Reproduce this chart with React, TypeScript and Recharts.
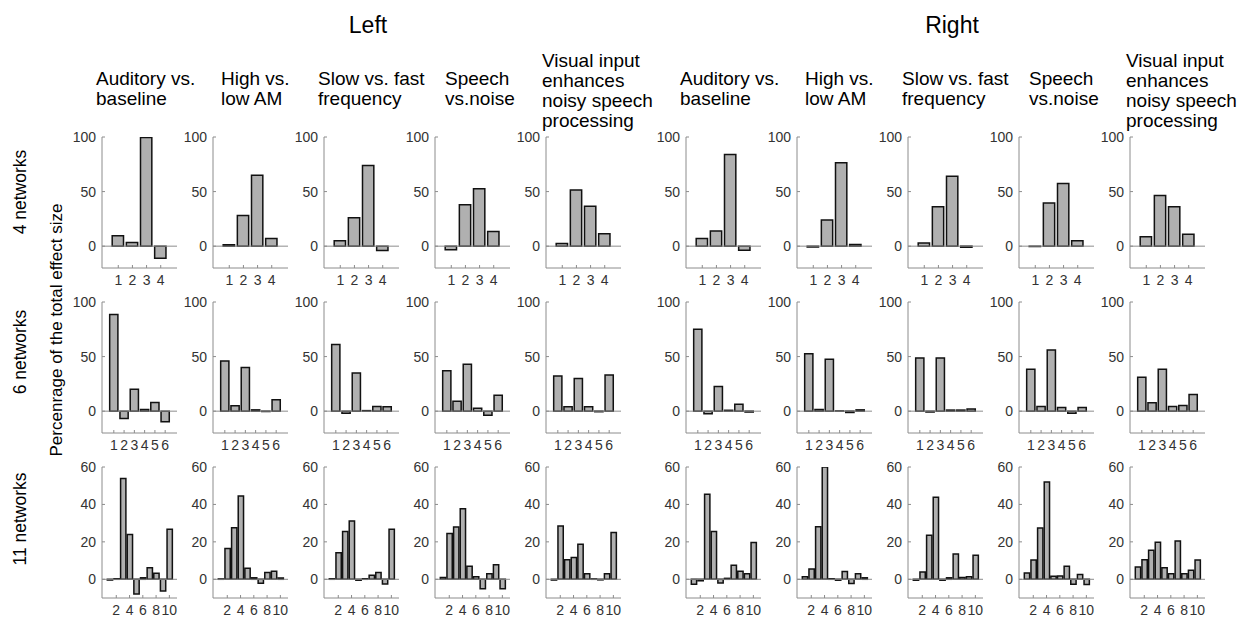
import React from 'react';
import { BarChart, Bar, XAxis, YAxis, ReferenceLine } from 'recharts';

// 4 networks (percent of total effect size, one value per network)
const left4Auditory = [9.5, 3.3, 99.5, -11];
const left4High = [1.2, 28, 65, 7];
const left4Slow = [5, 26, 74, -4];
const left4Speech = [-3.3, 38, 52.5, 13.5];
const left4Visual = [2.5, 51.5, 36.5, 11.3];
const right4Auditory = [7, 14, 84, -3.7];
const right4High = [-0.8, 24, 76.5, 1.5];
const right4Slow = [3, 36, 64, -1];
const right4Speech = [-0.4, 39.5, 57.5, 5];
const right4Visual = [8.6, 46.3, 36, 11];

// 6 networks
const left6Auditory = [88.5, -6.7, 20, 1.5, 8, -9.8];
const left6High = [46, 5, 40, 1.2, -0.3, 10.4];
const left6Slow = [61, -2, 35, 0.5, 4.3, 4];
const left6Speech = [37, 9, 43, 2.7, -3.7, 14.6];
const left6Visual = [32.3, 4, 30, 4, -0.5, 33.2];
const right6Auditory = [75, -2.4, 22.6, 0.8, 6.4, -0.8];
const right6High = [52.7, 1.5, 47.6, 0.2, -1.2, 1.2];
const right6Slow = [48.8, -0.8, 48.8, 1, 1, 2];
const right6Speech = [38.4, 4.3, 56, 3.4, -2, 3.3];
const right6Visual = [31, 7.6, 38.4, 4.3, 5.2, 15.2];

// 11 networks (ten bars drawn)
const left11Auditory = [-0.4, 0.3, 53.8, 23.9, -7.8, 0.8, 6.2, 3.2, -6.2, 26.7];
const left11High = [0.2, 16.4, 27.6, 44.5, 5.9, 0.8, -2.1, 3.6, 4.3, 0.7];
const left11Slow = [0.3, 14.2, 25.5, 31.2, -0.5, 0.3, 2.1, 3.6, -2.5, 26.7];
const left11Speech = [1, 24.4, 28, 37.7, 6.9, 1.4, -5, 3, 7.8, -5];
const left11Visual = [-0.4, 28.5, 10.5, 11.7, 18.7, 3, 0.2, -0.3, 3, 25];
const right11Auditory = [-2.7, -0.8, 45.4, 25.5, -2, 0.5, 7.5, 4.3, 3, 19.6];
const right11High = [1.4, 5.5, 28.1, 60, 0.3, -0.5, 4.1, -2.3, 3, 0.8];
const right11Slow = [-0.5, 3.9, 23.5, 43.8, -0.5, 0.8, 13.5, 1, 1.4, 12.8];
const right11Speech = [3.4, 10.3, 27.4, 52, 1.6, 1.8, 6.9, -2.7, 2.5, -2.8];
const right11Visual = [6.6, 10.5, 15.5, 19.8, 6.2, 3, 20.5, 3, 4.8, 10.3];

const columnTitles = [
  ['Auditory vs.', 'baseline'],
  ['High vs.', 'low AM'],
  ['Slow vs. fast', 'frequency'],
  ['Speech', 'vs.noise'],
  ['Visual input', 'enhances', 'noisy speech', 'processing'],
];
const rowLabels = ['4 networks', '6 networks', '11 networks'];

const xTicks4 = [1, 2, 3, 4];
const xTicks6 = [1, 2, 3, 4, 5, 6];
const xTicks11 = [2, 4, 6, 8, 10];
const yTicks100 = [0, 50, 100];
const yTicks60 = [0, 20, 40, 60];

const rows = [
  { left: [left4Auditory, left4High, left4Slow, left4Speech, left4Visual], right: [right4Auditory, right4High, right4Slow, right4Speech, right4Visual], xTicks: xTicks4, yTicks: yTicks100, yDomain: [-20, 100] as [number, number] },
  { left: [left6Auditory, left6High, left6Slow, left6Speech, left6Visual], right: [right6Auditory, right6High, right6Slow, right6Speech, right6Visual], xTicks: xTicks6, yTicks: yTicks100, yDomain: [-20, 100] as [number, number] },
  { left: [left11Auditory, left11High, left11Slow, left11Speech, left11Visual], right: [right11Auditory, right11High, right11Slow, right11Speech, right11Visual], xTicks: xTicks11, yTicks: yTicks60, yDomain: [-10, 60] as [number, number] },
];

const LEFT_X = [102, 213, 324, 435, 546];
const RIGHT_X = [686, 797, 908, 1019, 1130];
const ROW_TOP = [137, 302, 467];
const TITLE_OFFSET = [-6, 8, -6, 10, -4];

const PLOT_W = 75;
const PLOT_H = 131;
const ML = 44;
const MT = 8;
const MR = 6;
const XH = 26;
const AXIS = '#8c8c8c';
const tickStyle = { fill: '#333', fontSize: 14, fontFamily: 'Liberation Sans, Arial, sans-serif' };
const font = 'Liberation Sans, Arial, sans-serif';

interface PanelProps {
  values: number[];
  left: number;
  top: number;
  xTicks: number[];
  yTicks: number[];
  yDomain: [number, number];
}

function Panel({ values, left, top, xTicks, yTicks, yDomain }: PanelProps) {
  const n = values.length;
  const data = values.map((v, i) => ({ k: i + 1, v }));
  const xDomain: [number, number] = [-0.15, n + 1.15];
  const barSize = (0.8 * PLOT_W) / (xDomain[1] - xDomain[0]);
  return (
    <div style={{ position: 'absolute', left: left - ML, top: top - MT }}>
      <BarChart
        width={ML + PLOT_W + MR}
        height={MT + PLOT_H + XH}
        data={data}
        margin={{ top: MT, right: MR, bottom: 0, left: 0 }}
        barSize={barSize}
      >
        <XAxis
          type="number"
          dataKey="k"
          domain={xDomain}
          ticks={xTicks}
          interval={0}
          height={XH}
          allowDataOverflow
          stroke={AXIS}
          tickSize={-3}
          tickMargin={10}
          tick={tickStyle}
        />
        <YAxis
          type="number"
          domain={yDomain}
          ticks={yTicks}
          interval={0}
          width={ML}
          allowDataOverflow
          stroke={AXIS}
          tickSize={-3}
          tickMargin={9}
          tick={tickStyle}
        />
        <ReferenceLine y={0} stroke={AXIS} strokeWidth={1} />
        <Bar dataKey="v" fill="#b0b0b0" stroke="#111" strokeWidth={1.5} isAnimationActive={false} />
      </BarChart>
    </div>
  );
}

export default function App() {
  return (
    <div style={{ position: 'absolute', left: 0, top: 0, width: 1242, height: 617, background: '#fff', fontFamily: font, color: '#000' }}>
      <div style={{ position: 'absolute', left: 368, top: 25, transform: 'translate(-50%, -50%)', fontSize: 23 }}>Left</div>
      <div style={{ position: 'absolute', left: 952, top: 25, transform: 'translate(-50%, -50%)', fontSize: 23 }}>Right</div>

      {[LEFT_X, RIGHT_X].map((xs, g) =>
        xs.map((x, c) => {
          const lines = columnTitles[c];
          return (
            <div
              key={`t-${g}-${c}`}
              style={{
                position: 'absolute',
                left: x + TITLE_OFFSET[c],
                top: lines.length > 2 ? 91 : 89,
                transform: 'translateY(-50%)',
                fontSize: 19,
                lineHeight: '20px',
                whiteSpace: 'nowrap',
              }}
            >
              {lines.map((l) => (
                <div key={l}>{l}</div>
              ))}
            </div>
          );
        })
      )}

      {rowLabels.map((label, r) => (
        <div
          key={label}
          style={{
            position: 'absolute',
            left: 20,
            top: [192, 352, 519][r],
            transform: 'translate(-50%, -50%) rotate(-90deg)',
            fontSize: 17.5,
            whiteSpace: 'nowrap',
          }}
        >
          {label}
        </div>
      ))}
      <div
        style={{
          position: 'absolute',
          left: 57,
          top: 330,
          transform: 'translate(-50%, -50%) rotate(-90deg)',
          fontSize: 17,
          whiteSpace: 'nowrap',
        }}
      >
        Percenrage of the total effect size
      </div>

      {rows.map((row, r) =>
        [...row.left.map((v, c) => ({ v, x: LEFT_X[c] })), ...row.right.map((v, c) => ({ v, x: RIGHT_X[c] }))].map((p, i) => (
          <Panel
            key={`p-${r}-${i}`}
            values={p.v}
            left={p.x}
            top={ROW_TOP[r]}
            xTicks={row.xTicks}
            yTicks={row.yTicks}
            yDomain={row.yDomain}
          />
        ))
      )}
    </div>
  );
}
